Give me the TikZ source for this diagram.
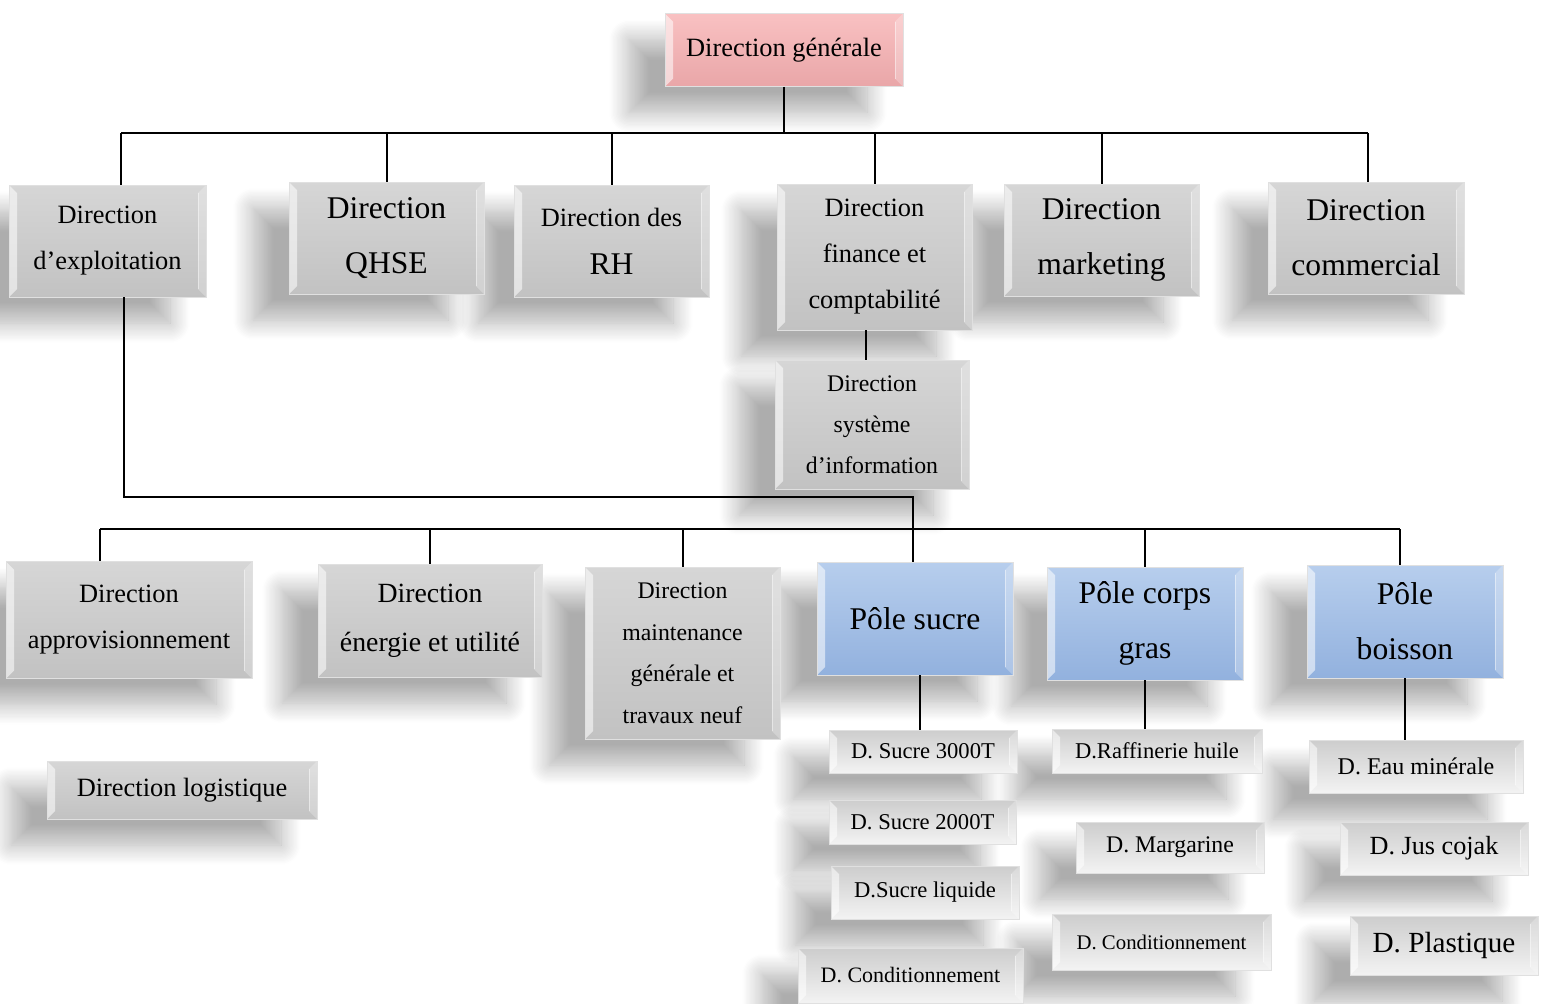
\documentclass[tikz,border=0pt]{standalone}
\usepackage{fontspec}
\setmainfont{Liberation Serif}
\usetikzlibrary{shadows.blur}

\definecolor{grayTop}{HTML}{D6D6D6}
\definecolor{grayBot}{HTML}{C2C2C2}
\definecolor{subTop}{HTML}{CDCDCD}
\definecolor{subBot}{HTML}{F3F3F3}
\definecolor{blueTop}{HTML}{B7CEED}
\definecolor{blueBot}{HTML}{92B1DE}
\definecolor{pinkTop}{HTML}{F9C1C2}
\definecolor{pinkBot}{HTML}{E9A6A8}

\begin{document}
\begin{tikzpicture}[x=0.5pt,y=-0.5pt,
  bevel/.style={path picture={
    \fill[white,opacity=.55] (path picture bounding box.north west) -- ++(4pt,-4pt)
      -- ([shift={(4pt,4pt)}]path picture bounding box.south west) -- (path picture bounding box.south west) -- cycle;
    \fill[white,opacity=.25] (path picture bounding box.north east) -- ++(-4pt,-4pt)
      -- ([shift={(-4pt,4pt)}]path picture bounding box.south east) -- (path picture bounding box.south east) -- cycle;
    \draw[white,opacity=.45,line width=.5pt] ([shift={(-4pt,-4pt)}]path picture bounding box.north east)
      -- ([shift={(-4pt,4pt)}]path picture bounding box.south east);}},
  unit/.style={draw=black!12, line width=0.4pt, inner sep=0pt, align=center, bevel,
    blur shadow={shadow xshift=-18pt, shadow yshift=-13pt, shadow blur radius=10pt,
      shadow blur steps=16, shadow opacity=32}},
  dirbox/.style={unit, top color=grayTop, bottom color=grayBot},
  subbox/.style={unit, top color=subTop, bottom color=subBot},
  polebox/.style={unit, top color=blueTop, bottom color=blueBot},
  headbox/.style={unit, top color=pinkTop, bottom color=pinkBot},
  sz/.style 2 args={minimum width=#1*0.5pt, minimum height=#2*0.5pt},
  fs/.style 2 args={font=\fontsize{#1}{#2}\selectfont},
  link/.style={line width=1pt}
]
\useasboundingbox (0,0) rectangle (1544,1003);

\node[headbox, sz={238}{73}, fs={13.2}{20}] (gen) at (784,50) {Direction générale};

\node[dirbox, sz={196}{112}, fs={15.8}{27.5}] (commercial) at (1366,238) {Direction\\commercial};
\node[dirbox, sz={195}{112}, fs={15.8}{27.5}] (marketing) at (1101.5,240) {Direction\\marketing};
\node[dirbox, sz={195}{146}, fs={13.2}{23}] (finance) at (874.5,257) {Direction\\finance et\\comptabilité};
\node[dirbox, sz={195}{112}, fs={13.2}{24}] (rh) at (611.5,241) {Direction des\\{\fontsize{15.8}{24}\selectfont RH}};
\node[dirbox, sz={195}{112}, fs={15.8}{27.5}] (qhse) at (386.5,238) {Direction\\QHSE};
\node[dirbox, sz={197}{112}, fs={13.2}{23}] (expl) at (107.5,241) {Direction\\d’exploitation};

\node[dirbox, sz={194}{129}, fs={11.9}{20.5}] (sysinfo) at (872,424.5) {Direction\\système\\d’information};

\node[polebox, sz={196}{113}, fs={15.8}{27.5}] (pboisson) at (1405,621.5) {Pôle\\boisson};
\node[polebox, sz={196}{113}, fs={15.8}{27.5}] (pgras) at (1145,623.5) {Pôle corps\\gras};
\node[polebox, sz={196}{113}, fs={15.8}{27.5}] (psucre) at (915,618.5) {Pôle sucre};
\node[dirbox, sz={195}{172}, fs={11.9}{20.75}] (maint) at (682.5,653) {Direction\\maintenance\\générale et\\travaux neuf};
\node[dirbox, sz={224}{113}, fs={13.9}{24.5}] (energie) at (430,620.5) {Direction\\énergie et utilité};
\node[dirbox, sz={246}{117}, fs={13.2}{23}] (appro) at (129,620) {Direction\\approvisionnement};

\node[subbox, sz={214}{53}, fs={12}{14}] (eau) at (1416,766.5) {D. Eau minérale};
\node[subbox, sz={210}{44}, fs={11.3}{14}] (raff) at (1157,751) {D.Raffinerie huile};
\node[subbox, sz={188}{43}, fs={11.3}{14}] (s3000) at (923,751.5) {D. Sucre 3000T};
\node[dirbox, sz={270}{58}, fs={13.2}{20}] (logist) at (182,790) {Direction logistique};

\node[subbox, sz={188}{53}, fs={13.1}{15}] (jus) at (1434,848.5) {D. Jus cojak};
\node[subbox, sz={188}{51}, fs={11.9}{14}] (marg) at (1170,847.5) {D. Margarine};
\node[subbox, sz={187}{44}, fs={11.3}{14}] (s2000) at (922.5,822) {D. Sucre 2000T};

\node[subbox, sz={188}{53}, fs={11.3}{14}] (sliq) at (925,892.5) {D.Sucre liquide};

\node[subbox, sz={188}{59}, fs={14.6}{17}] (plast) at (1444,945.5) {D. Plastique};
\node[subbox, sz={219}{56}, fs={10.4}{13}] (gcond) at (1161.5,942) {D. Conditionnement};
\node[subbox, sz={225}{55}, fs={11}{13}] (scond) at (910.5,975.5) {D. Conditionnement};

\coordinate (bar1) at (0,133);
\coordinate (bar2) at (0,497);
\coordinate (bar3) at (0,529);

\draw[link] (gen.south) -- (gen.south |- bar1);
\draw[link] ([xshift=6.75pt]expl.north |- bar1) -- ([xshift=1pt]commercial.north |- bar1);
\draw[link] ([xshift=6.75pt]expl.north) -- ([xshift=6.75pt]expl.north |- bar1);
\foreach \n in {qhse,rh,finance,marketing}
  \draw[link] (\n.north) -- (\n.north |- bar1);
\draw[link] ([xshift=1pt]commercial.north) -- ([xshift=1pt]commercial.north |- bar1);
\draw[link] ([xshift=-3pt]sysinfo.north) -- ([xshift=-3pt]sysinfo.north |- finance.south);

\draw[link] ([xshift=8.25pt]expl.south) |- ([xshift=-1pt]psucre.north |- bar2) -- ([xshift=-1pt]psucre.north);
\draw[link] ([xshift=-14.5pt]appro.north |- bar3) -- ([xshift=-2.5pt]pboisson.north |- bar3);
\draw[link] ([xshift=-14.5pt]appro.north) -- ([xshift=-14.5pt]appro.north |- bar3);
\foreach \n in {energie,maint,pgras}
  \draw[link] (\n.north) -- (\n.north |- bar3);
\draw[link] ([xshift=-2.5pt]pboisson.north) -- ([xshift=-2.5pt]pboisson.north |- bar3);

\draw[link] ([xshift=2.5pt]psucre.south) -- ([xshift=2.5pt]psucre.south |- s3000.north);
\draw[link] (pgras.south) -- (pgras.south |- raff.north);
\draw[link] (pboisson.south) -- (pboisson.south |- eau.north);

\end{tikzpicture}
\end{document}
